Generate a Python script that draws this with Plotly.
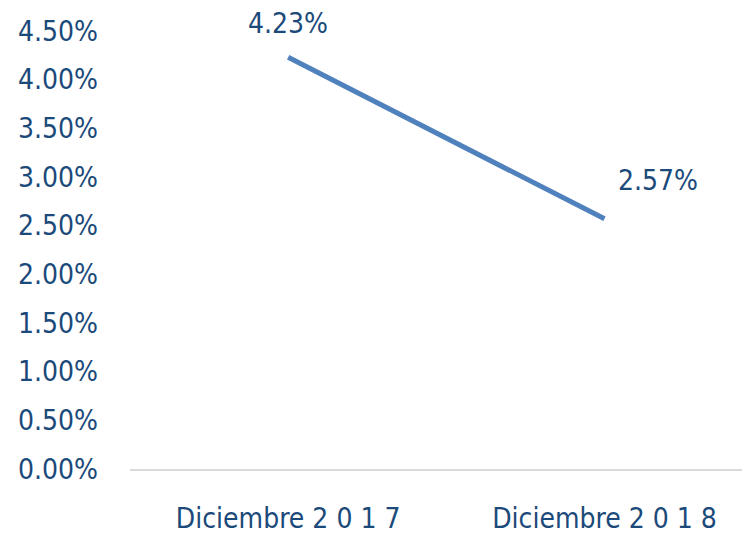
import plotly.graph_objects as go

categories = ["Diciembre 2 0 1 7", "Diciembre 2 0 1 8"]
values = [4.23, 2.57]
value_labels = ["4.23%", "2.57%"]
y_tickvals = [0, 0.5, 1, 1.5, 2, 2.5, 3, 3.5, 4, 4.5]
y_ticktext = ["0.00%", "0.50%", "1.00%", "1.50%", "2.00%", "2.50%", "3.00%", "3.50%", "4.00%", "4.50%"]

FONT = "DejaVu Sans Condensed, Liberation Sans Narrow, sans-serif"
TXT = "#1B4A7A"
FS = 28

fig = go.Figure()
fig.add_trace(go.Scatter(
    x=categories, y=values, mode="lines",
    line=dict(color="#4F81BD", width=5),
    hoverinfo="skip", showlegend=False,
))

offsets = [(0, 34), (54, 38)]
for c, v, t, (dx, dy) in zip(categories, values, value_labels, offsets):
    fig.add_annotation(x=c, y=v, text=t, showarrow=False, xshift=dx, yshift=dy,
                       font=dict(family=FONT, size=FS, color=TXT))

# page body has an 8px margin, so the figure is sized/offset to compensate
fig.update_layout(
    width=742, height=526,
    margin=dict(l=122, r=0, t=23, b=65),
    paper_bgcolor="white", plot_bgcolor="white",
    xaxis=dict(type="category", range=[-0.5, 1.46], showgrid=False, zeroline=False,
               showline=True, linecolor="#D9D9D9", linewidth=2, ticks="",
               tickfont=dict(family=FONT, size=FS, color=TXT), ticklabelstandoff=23),
    yaxis=dict(range=[0, 4.5], tickvals=y_tickvals, ticktext=y_ticktext,
               showgrid=False, zeroline=False, showline=False, ticks="",
               tickfont=dict(family=FONT, size=FS, color=TXT), ticklabelstandoff=31),
)

fig.write_html("out.html")
